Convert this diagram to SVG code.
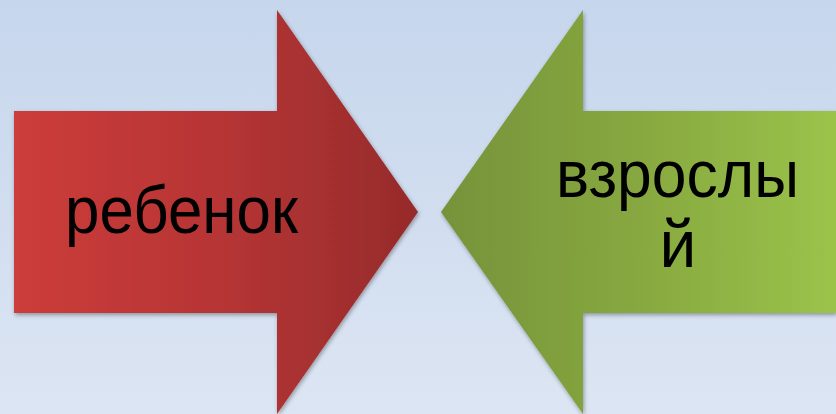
<svg xmlns="http://www.w3.org/2000/svg" width="836" height="414" viewBox="0 0 836 414">
<defs>
<linearGradient id="bg" x1="0" y1="0" x2="0" y2="1">
<stop offset="0" stop-color="#c6d6ec"/>
<stop offset="1" stop-color="#dce5f3"/>
</linearGradient>
<linearGradient id="red" gradientUnits="userSpaceOnUse" x1="14" y1="0" x2="418" y2="0">
<stop offset="0" stop-color="#cc3c3a"/>
<stop offset="0.5" stop-color="#b73535"/>
<stop offset="1" stop-color="#962b2b"/>
</linearGradient>
<linearGradient id="green" gradientUnits="userSpaceOnUse" x1="441" y1="0" x2="836" y2="0">
<stop offset="0" stop-color="#76933a"/>
<stop offset="0.5" stop-color="#87a840"/>
<stop offset="1" stop-color="#9bc34a"/>
</linearGradient>
<filter id="sh" x="-5%" y="-5%" width="115%" height="115%">
<feDropShadow dx="1" dy="2" stdDeviation="2" flood-color="#000" flood-opacity="0.35"/>
</filter>
<style>
.lbl{font-family:"Liberation Sans",Arial,sans-serif;font-size:66px;fill:#000;text-anchor:middle}
</style>
</defs>
<rect x="0" y="0" width="836" height="414" fill="url(#bg)"/>
<g id="node-child">
<polygon points="14,111 277,111 277,10 418,212 277,414 277,313 14,313" fill="url(#red)" filter="url(#sh)"/>
<text class="lbl" x="181.5" y="233" textLength="233" lengthAdjust="spacingAndGlyphs">ребенок</text>
</g>
<g id="node-adult">
<polygon points="441,212 583,10 583,111 836,111 836,313 583,313 583,414" fill="url(#green)" filter="url(#sh)"/>
<text class="lbl" x="677.5" y="197" textLength="243" lengthAdjust="spacingAndGlyphs">взрослы</text>
<text class="lbl" x="678" y="267">й</text>
</g>
<g id="connectors"/>
</svg>
